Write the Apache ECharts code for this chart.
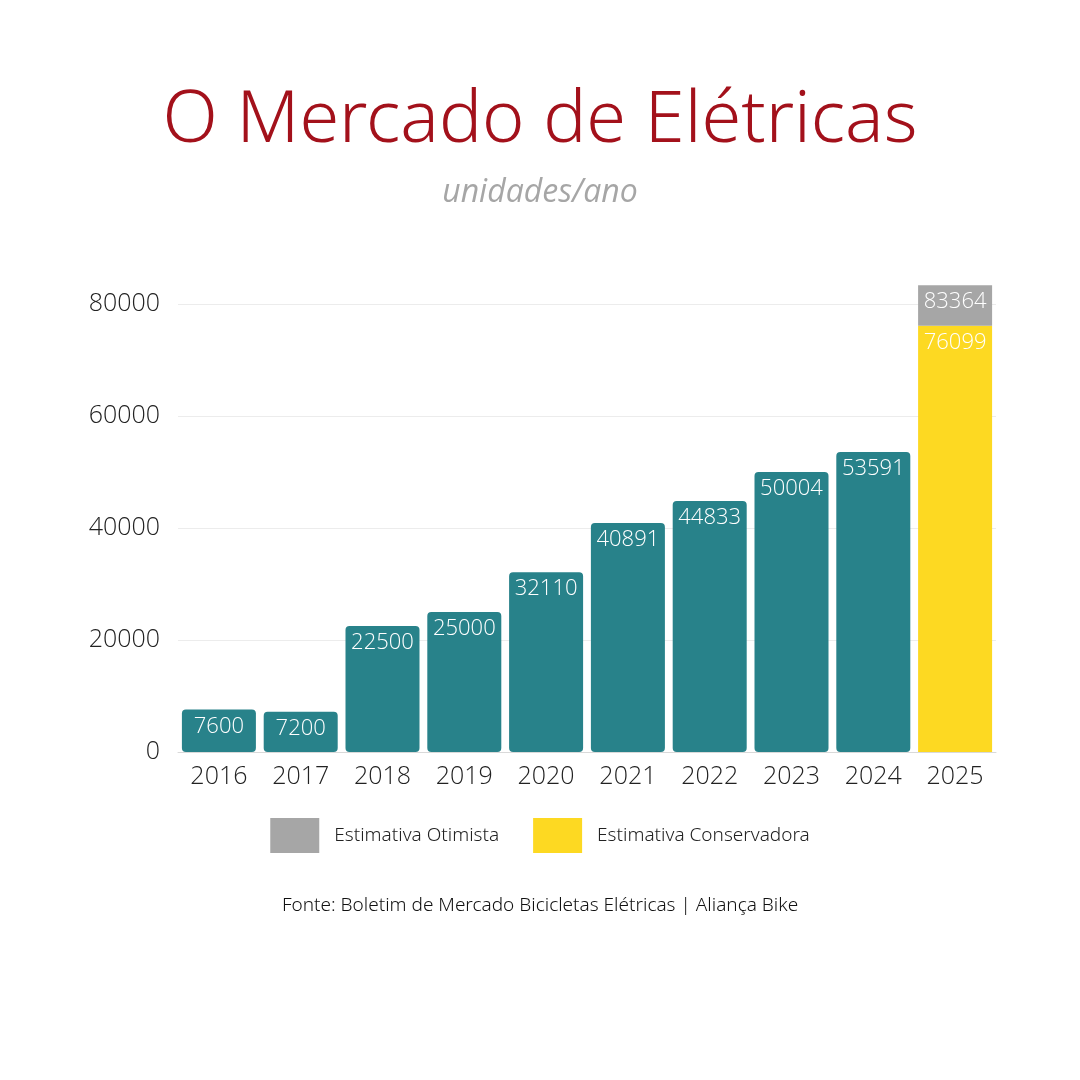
<!DOCTYPE html>
<html><head><meta charset="utf-8">
<script src="https://cdn.jsdelivr.net/npm/echarts@6/dist/echarts.min.js"></script>
<style>html,body{margin:0;background:#fff}#c{width:1080px;height:1080px}</style>
</head><body><div id="c"></div>
<script>
const years = ['2016','2017','2018','2019','2020','2021','2022','2023','2024','2025'];
const sales = [7600, 7200, 22500, 25000, 32110, 40891, 44833, 50004, 53591, null];
const conservative = [null, null, null, null, null, null, null, null, null, 76099];
const optimistic = [null, null, null, null, null, null, null, null, null, 83364];
const yTicks = [0, 20000, 40000, 60000, 80000];

const TEAL = '#28828a', YELLOW = '#fdd922', GREY = '#a6a6a6';
const chart = echarts.init(document.getElementById('c'));
const lbl = {show: true, position: 'insideTop', color: '#fff', fontSize: 22, fontWeight: 300, fontFamily: 'Open Sans', distance: 6};

chart.setOption({
  animation: false,
  title: [
    {text: 'O Mercado de Elétricas', left: 'center', top: 80,
      textStyle: {color: '#a3111b', fontSize: 72, fontWeight: 300, fontFamily: 'Noto Sans'}},
    {text: 'unidades/ano', left: 'center', top: 172,
      textStyle: {color: '#a6a6a6', fontSize: 32, fontStyle: 'italic', fontWeight: 'normal', fontFamily: 'Open Sans'}}
  ],
  grid: {left: 178, right: 84, top: 304, bottom: 328},
  legend: {
    bottom: 222, left: 'center', itemWidth: 49, itemHeight: 35, itemGap: 34, icon: 'rect',
    textStyle: {fontSize: 19, fontWeight: 300, fontFamily: 'Noto Sans', color: '#222', padding: [0, 0, 0, 10]},
    data: [{name: 'Estimativa Otimista', itemStyle: {color: GREY}},
           {name: 'Estimativa Conservadora', itemStyle: {color: YELLOW}}]
  },
  graphic: [{type: 'text', left: 'center', top: 896,
    style: {text: 'Fonte: Boletim de Mercado Bicicletas Elétricas | Aliança Bike', fontSize: 19, fontWeight: 300, fontFamily: 'Noto Sans', fill: '#111'}}],
  xAxis: {type: 'category', data: years,
    axisTick: {show: false}, axisLine: {lineStyle: {color: '#d9d9d9'}},
    axisLabel: {fontSize: 25, color: '#222', fontFamily: 'Open Sans', fontWeight: 300, margin: 12}},
  yAxis: {type: 'value', min: 0, max: yTicks[yTicks.length - 1], interval: 20000,
    axisLabel: {fontSize: 25, color: '#222', fontFamily: 'Open Sans', fontWeight: 300, margin: 18, formatter: v => String(v)},
    splitLine: {lineStyle: {color: '#ececec'}}},
  series: [
    {type: 'bar', name: 'Vendas', stack: 's', data: sales, barWidth: 74, clip: false,
      itemStyle: {color: TEAL, borderRadius: 4}, label: lbl},
    {type: 'bar', name: 'Estimativa Conservadora', stack: 's', data: conservative, barWidth: 74, clip: false,
      itemStyle: {color: YELLOW}, label: lbl},
    {type: 'bar', name: 'Estimativa Otimista', stack: 's', clip: false, barWidth: 74,
      data: optimistic.map((v, i) => v == null ? null : v - conservative[i]),
      itemStyle: {color: GREY},
      label: Object.assign({}, lbl, {formatter: p => optimistic[p.dataIndex]})}
  ]
});
</script></body></html>
